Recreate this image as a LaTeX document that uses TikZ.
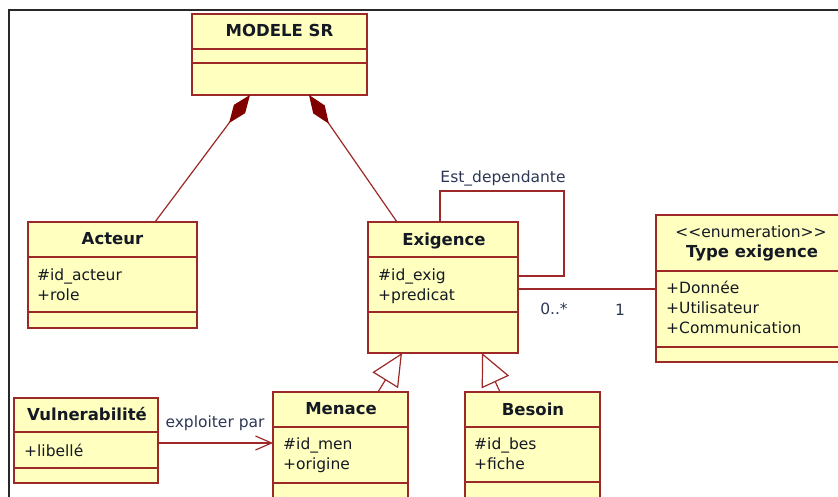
\documentclass[tikz,border=0pt]{standalone}
\usepackage{fontspec}
\setmainfont{DejaVu Sans}
\usetikzlibrary{arrows.meta}

\definecolor{umlfill}{RGB}{255,255,192}
\definecolor{umlline}{RGB}{156,40,40}
\definecolor{umldiam}{RGB}{128,0,0}
\definecolor{umltext}{RGB}{20,25,35}
\definecolor{labeltext}{RGB}{45,55,85}
\definecolor{framegray}{RGB}{40,40,40}

\tikzset{
  classbox/.style={draw=umlline, fill=umlfill, line width=1.3pt, rectangle,
    inner sep=0pt, outer sep=0pt, anchor=north west},
  divider/.style={draw=umlline, line width=1.3pt},
  ctitle/.style={font=\fontsize{16.5}{18}\selectfont\bfseries, text=umltext,
    inner sep=0pt, anchor=base},
  stereo/.style={font=\fontsize{15.5}{18}\selectfont, text=umltext,
    inner sep=0pt, anchor=base},
  attr/.style={font=\fontsize{15.5}{18}\selectfont, text=umltext,
    inner sep=0pt, anchor=base west},
  rel/.style={draw=umlline, line width=1.2pt},
  lbl/.style={font=\fontsize{15.5}{18}\selectfont, text=labeltext,
    inner sep=0pt, anchor=base},
  compose/.style={rel, {Diamond[color=umldiam, fill=umldiam, length=35pt, width=14pt]}-},
  inherit/.style={rel, -{Triangle[open, fill=white, length=32pt, width=30pt]}},
  navig/.style={rel, -{Straight Barb[length=16pt, width=14pt]}},
}

\begin{document}
\begin{tikzpicture}[x=1pt, y=-1pt]
  \useasboundingbox (0,0) rectangle (838,497);
  \clip (0,0) rectangle (838,497);

  % window frame
  \draw[framegray, line width=2pt] (9,497) -- (9,10) -- (838,10);

  % ---- MODELE SR ----
  \node[classbox, minimum width=175pt, minimum height=81pt] (modele) at (192,14) {};
  \draw[divider] (192,49) -- (367,49);
  \draw[divider] (192,63) -- (367,63);
  \node[ctitle] (modeleT) at (279.5,37) {MODELE SR};

  % ---- Acteur ----
  \node[classbox, minimum width=169pt, minimum height=106pt] (acteur) at (28,222) {};
  \draw[divider] (28,257) -- (197,257);
  \draw[divider] (28,312) -- (197,312);
  \node[ctitle] (acteurT) at (112.5,244) {Acteur};
  \node[attr] (acteurA1) at (37,280) {\#id\_acteur};
  \node[attr] (acteurA2) at (37,300) {+role};

  % ---- Exigence ----
  \node[classbox, minimum width=150pt, minimum height=131pt] (exig) at (368,222) {};
  \draw[divider] (368,257) -- (518,257);
  \draw[divider] (368,312) -- (518,312);
  \node[ctitle] (exigT) at (444,245) {Exigence};
  \node[attr] (exigA1) at (378,280) {\#id\_exig};
  \node[attr] (exigA2) at (378,300) {+predicat};

  % ---- Type exigence (enumeration) ----
  \node[classbox, minimum width=190pt, minimum height=147pt] (typex) at (656,215) {};
  \draw[divider] (656,271) -- (846,271);
  \draw[divider] (656,347) -- (846,347);
  \node[stereo] (typexS) at (751,237) {{<}{<}enumeration{>}{>}};
  \node[ctitle] (typexT) at (752,258) {Type exigence};
  \node[attr] (typexA1) at (666,293) {+Donnée};
  \node[attr] (typexA2) at (666,313) {+Utilisateur};
  \node[attr] (typexA3) at (666,333) {+Communication};

  % ---- Vulnerabilite ----
  \node[classbox, minimum width=144pt, minimum height=85pt] (vuln) at (14,398) {};
  \draw[divider] (14,432) -- (158,432);
  \draw[divider] (14,468) -- (158,468);
  \node[ctitle] (vulnT) at (87,420) {Vulnerabilité};
  \node[attr] (vulnA1) at (24,456) {+libellé};

  % ---- Menace ----
  \node[classbox, minimum width=135pt, minimum height=130pt] (menace) at (273,392) {};
  \draw[divider] (273,427) -- (408,427);
  \draw[divider] (273,483) -- (408,483);
  \node[ctitle] (menaceT) at (341,414) {Menace};
  \node[attr] (menaceA1) at (283,449) {\#id\_men};
  \node[attr] (menaceA2) at (283,469) {+origine};

  % ---- Besoin ----
  \node[classbox, minimum width=135pt, minimum height=130pt] (besoin) at (465,392) {};
  \draw[divider] (465,427) -- (600,427);
  \draw[divider] (465,482) -- (600,482);
  \node[ctitle] (besoinT) at (533,415) {Besoin};
  \node[attr] (besoinA1) at (474,449) {\#id\_bes};
  \node[attr] (besoinA2) at (474,469) {+fiche};

  % ---- connector end points on the class borders ----
  \coordinate (modeleL) at (250,95);
  \coordinate (modeleR) at (309,95);
  \coordinate (acteurTop) at (155,222);
  \coordinate (exigTop) at (397,222);
  \coordinate (loopOut) at (440,222);
  \coordinate (loopIn) at (518,276);
  \coordinate (exigRight) at (518,289);
  \coordinate (typexLeft) at (656,289);
  \coordinate (vulnRight) at (158,443);
  \coordinate (menaceLeft) at (273,443);
  \coordinate (menaceTop) at (378,392);
  \coordinate (exigBotL) at (402,353);
  \coordinate (besoinTop) at (500,392);
  \coordinate (exigBotR) at (482,353);

  % compositions
  \draw[compose] (modeleL) -- (acteurTop);
  \draw[compose] (modeleR) -- (exigTop);

  % reflexive association
  \draw[rel] (loopOut) -- (440,191) -- (564,191) -- (564,276) -- (loopIn);
  \node[lbl] (loopLbl) at (503,183) {Est\_dependante};

  % association to the enumeration
  \draw[rel] (exigRight) -- (typexLeft);
  \node[lbl] (multA) at (554,314) {0..*};
  \node[lbl] (multB) at (620,315) {1};

  % navigable association
  \draw[navig] (vulnRight) -- (menaceLeft);
  \node[lbl] (navLbl) at (215,427) {exploiter par};

  % generalisations
  \draw[inherit] (menaceTop) -- (exigBotL);
  \draw[inherit] (besoinTop) -- (exigBotR);
\end{tikzpicture}
\end{document}
